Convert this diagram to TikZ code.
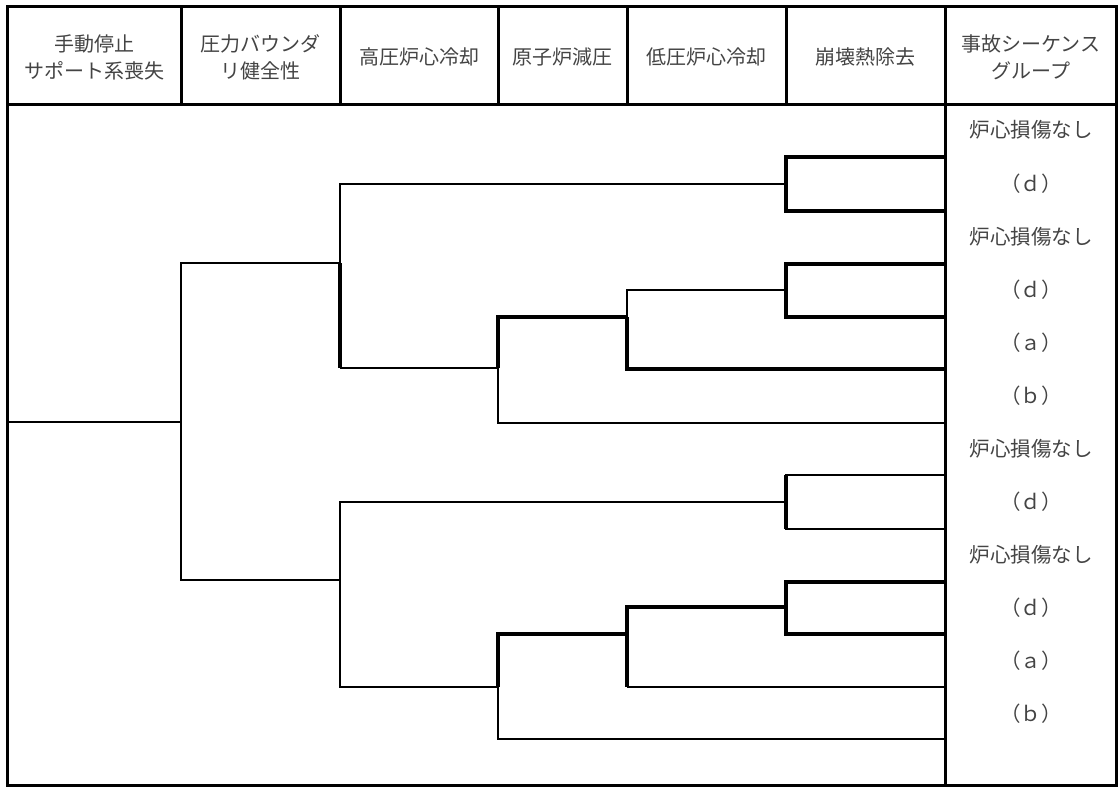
\documentclass[tikz,border=0pt]{standalone}
\usepackage{fontspec}
\newfontfamily\jp{Noto Sans CJK JP}
\definecolor{txt}{HTML}{444444}
\begin{document}
\begin{tikzpicture}[x=1pt,y=-1pt,
  frame/.style={line width=3pt},
  thinline/.style={line width=2.6pt},
  thickline/.style={line width=3.8pt},
  hdr/.style={font=\jp\fontsize{20}{27}\selectfont, text=txt, align=center, inner sep=0pt},
  lbl/.style={font=\jp\fontsize{20.5}{24}\selectfont, text=txt, inner sep=0pt}]
\useasboundingbox (0,0) rectangle (1120,792);
% frame and header grid
\draw[frame] (7,7) rectangle (1116,785);
\draw[frame] (7,105) -- (1116,105);
\foreach \x in {181,340,498,627,786} \draw[frame] (\x,7) -- (\x,105);
\draw[frame] (945,7) -- (945,785);
% header texts
\node[hdr] (h1) at (94,57) {手動停止\\サポート系喪失};
\node[hdr] (h2) at (260,57) {圧力バウンダ\\リ健全性};
\node[hdr] (h3) at (419,57) {高圧炉心冷却};
\node[hdr] (h4) at (562,57) {原子炉減圧};
\node[hdr] (h5) at (706,57) {低圧炉心冷却};
\node[hdr] (h6) at (865,57) {崩壊熱除去};
\node[hdr] (h7) at (1031,57) {事故シーケンス\\グループ};
% end labels
\node[lbl] (l1) at (1031,130) {炉心損傷なし};
\node[lbl] (l2) at (1031,184) {（ｄ）};
\node[lbl] (l3) at (1031,237) {炉心損傷なし};
\node[lbl] (l4) at (1031,290) {（ｄ）};
\node[lbl] (l5) at (1031,343) {（ａ）};
\node[lbl] (l6) at (1031,396) {（ｂ）};
\node[lbl] (l7) at (1031,449) {炉心損傷なし};
\node[lbl] (l8) at (1031,502) {（ｄ）};
\node[lbl] (l9) at (1031,555) {炉心損傷なし};
\node[lbl] (l10) at (1031,608) {（ｄ）};
\node[lbl] (l11) at (1031,661) {（ａ）};
\node[lbl] (l12) at (1031,714) {（ｂ）};
% tree coordinates
\coordinate (root) at (7,422);
\coordinate (n0) at (181,422);
\coordinate (a) at (340,263);
\coordinate (a1) at (786,184);
\coordinate (a2) at (498,368);
\coordinate (a2a) at (627,317);
\coordinate (a2a1) at (786,290);
\coordinate (b) at (340,580);
\coordinate (b1) at (786,502);
\coordinate (b2) at (498,687);
\coordinate (b2a) at (627,634);
\coordinate (b2a1) at (786,607);
\coordinate (e1) at (945,157);
\coordinate (e2) at (945,211);
\coordinate (e3) at (945,264);
\coordinate (e4) at (945,317);
\coordinate (e5) at (945,369);
\coordinate (e6) at (945,423);
\coordinate (e7) at (945,475);
\coordinate (e8) at (945,529);
\coordinate (e9) at (945,582);
\coordinate (e10) at (945,634);
\coordinate (e11) at (945,687);
\coordinate (e12) at (945,739);
% root split
\draw[thinline] (root) -- (n0);
\draw[thinline] (a) -| (n0) |- (b);
% upper half
\draw[thinline] (a) |- (a1);
\draw[thickline] (a) -- (a |- a2);
\draw[thinline] (a |- a2) -- (a2);
\draw[thickline] (e1) -| (a1) |- (e2);
\draw[thinline] (e6) -| (a2);
\draw[thickline] (a2) |- (a2a);
\draw[thinline] (a2a) |- (a2a1);
\draw[thickline] (a2a) |- (e5);
\draw[thickline] (e3) -| (a2a1) |- (e4);
% lower half
\draw[thinline] (b) |- (b1);
\draw[thinline] (b) |- (b2);
\draw[thinline] (e7) -| (b1) |- (e8);
\draw[thickline] (b1 |- e7) -- (b1 |- e8);
\draw[thinline] (e12) -| (b2);
\draw[thickline] (b2) |- (b2a);
\draw[thickline] (b2a) |- (b2a1);
\draw[thickline] (b2a) -- (b2a |- e11);
\draw[thinline] (b2a |- e11) -- (e11);
\draw[thickline] (e9) -| (b2a1) |- (e10);
\end{tikzpicture}
\end{document}
